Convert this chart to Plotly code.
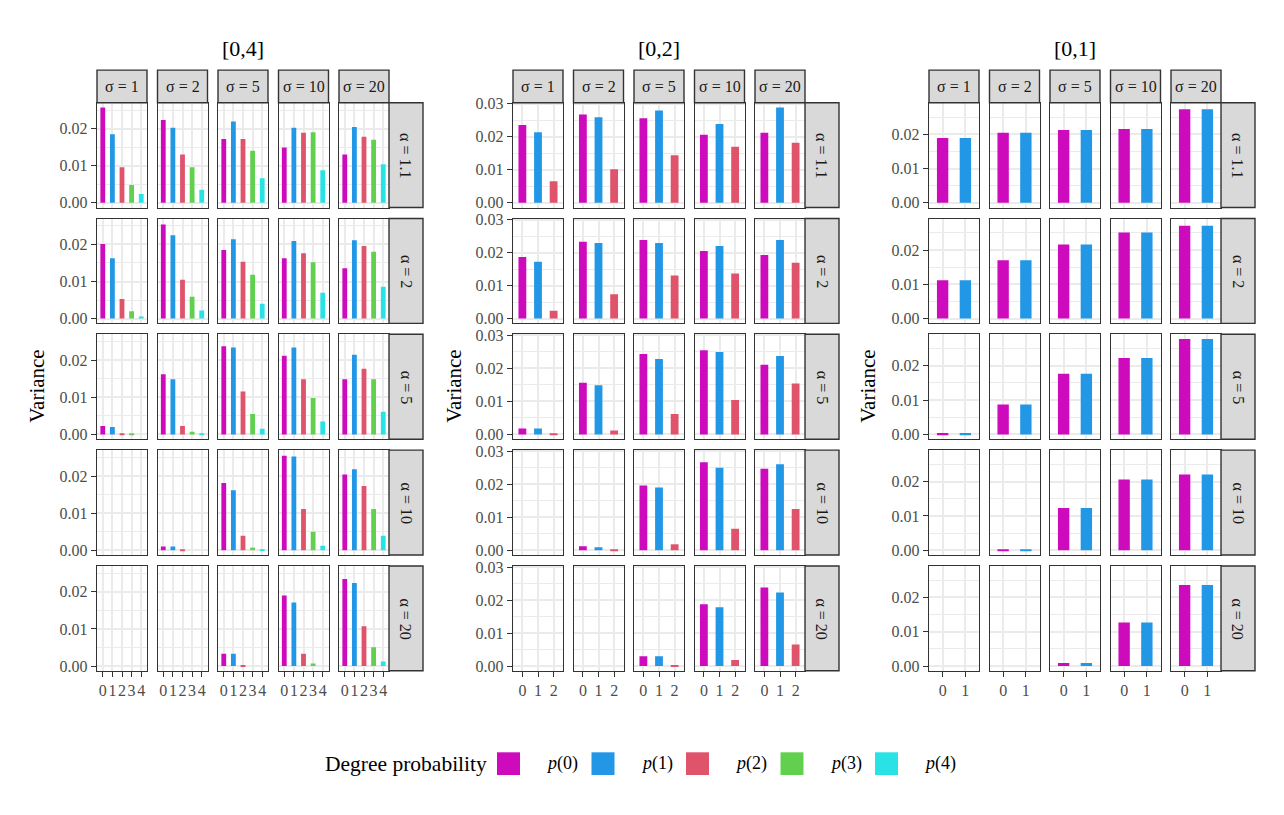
import plotly.graph_objects as go

W, H = 1284, 815
FONT = "Liberation Serif"

# ---------------- data ----------------
sigma_labels = ["σ = 1", "σ = 2", "σ = 5", "σ = 10", "σ = 20"]
alpha_labels = ["α = 1.1", "α = 2", "α = 5", "α = 10", "α = 20"]
group_titles = ["[0,4]", "[0,2]", "[0,1]"]
degree_labels = ["p(0)", "p(1)", "p(2)", "p(3)", "p(4)"]
degree_colors = ["#CD0BBC", "#2297E6", "#DF536B", "#61D04F", "#28E2E5"]

# rows = alpha (1.1, 2, 5, 10, 20), columns = sigma (1, 2, 5, 10, 20)
p0_04 = [[0.0257, 0.0223, 0.0172, 0.0149, 0.0130],
         [0.0201, 0.0254, 0.0185, 0.0163, 0.0136],
         [0.0023, 0.0162, 0.0238, 0.0212, 0.0149],
         [0.0000, 0.0010, 0.0181, 0.0255, 0.0204],
         [0.0000, 0.0000, 0.0033, 0.0190, 0.0235]]
p1_04 = [[0.0185, 0.0202, 0.0219, 0.0202, 0.0204],
         [0.0163, 0.0225, 0.0214, 0.0209, 0.0211],
         [0.0020, 0.0149, 0.0234, 0.0234, 0.0215],
         [0.0000, 0.0010, 0.0162, 0.0253, 0.0218],
         [0.0000, 0.0000, 0.0033, 0.0171, 0.0224]]
p2_04 = [[0.0096, 0.0130, 0.0172, 0.0189, 0.0178],
         [0.0053, 0.0105, 0.0153, 0.0176, 0.0196],
         [0.0002, 0.0023, 0.0116, 0.0149, 0.0177],
         [0.0000, 0.0002, 0.0039, 0.0111, 0.0173],
         [0.0000, 0.0000, 0.0003, 0.0033, 0.0107]]
p3_04 = [[0.0048, 0.0096, 0.0140, 0.0190, 0.0170],
         [0.0020, 0.0059, 0.0118, 0.0152, 0.0180],
         [0.0001, 0.0007, 0.0055, 0.0098, 0.0149],
         [0.0000, 0.0000, 0.0007, 0.0050, 0.0111],
         [0.0000, 0.0000, 0.0000, 0.0007, 0.0051]]
p4_04 = [[0.0024, 0.0035, 0.0066, 0.0088, 0.0104],
         [0.0006, 0.0022, 0.0040, 0.0070, 0.0086],
         [0.0000, 0.0002, 0.0015, 0.0035, 0.0061],
         [0.0000, 0.0000, 0.0002, 0.0012, 0.0039],
         [0.0000, 0.0000, 0.0000, 0.0000, 0.0012]]

p0_02 = [[0.0236, 0.0268, 0.0256, 0.0206, 0.0212],
         [0.0187, 0.0233, 0.0238, 0.0205, 0.0193],
         [0.0018, 0.0157, 0.0244, 0.0255, 0.0211],
         [0.0000, 0.0012, 0.0196, 0.0267, 0.0247],
         [0.0000, 0.0000, 0.0030, 0.0187, 0.0238]]
p1_02 = [[0.0214, 0.0259, 0.0280, 0.0239, 0.0289],
         [0.0172, 0.0229, 0.0229, 0.0220, 0.0238],
         [0.0018, 0.0149, 0.0229, 0.0250, 0.0238],
         [0.0000, 0.0009, 0.0190, 0.0250, 0.0261],
         [0.0000, 0.0000, 0.0030, 0.0178, 0.0223]]
p2_02 = [[0.0065, 0.0102, 0.0144, 0.0170, 0.0182],
         [0.0024, 0.0074, 0.0131, 0.0137, 0.0169],
         [0.0001, 0.0012, 0.0062, 0.0104, 0.0154],
         [0.0000, 0.0003, 0.0018, 0.0065, 0.0125],
         [0.0000, 0.0000, 0.0003, 0.0018, 0.0065]]

p0_01 = [[0.0189, 0.0204, 0.0212, 0.0215, 0.0273],
         [0.0112, 0.0170, 0.0216, 0.0251, 0.0271],
         [0.0004, 0.0087, 0.0177, 0.0223, 0.0278],
         [0.0000, 0.0002, 0.0123, 0.0206, 0.0221],
         [0.0000, 0.0000, 0.0009, 0.0127, 0.0236]]
p1_01 = [[0.0189, 0.0204, 0.0212, 0.0215, 0.0273],
         [0.0112, 0.0170, 0.0216, 0.0251, 0.0271],
         [0.0004, 0.0087, 0.0177, 0.0223, 0.0278],
         [0.0000, 0.0002, 0.0123, 0.0206, 0.0221],
         [0.0000, 0.0000, 0.0009, 0.0127, 0.0236]]

group_series = [[p0_04, p1_04, p2_04, p3_04, p4_04],
                [p0_02, p1_02, p2_02],
                [p0_01, p1_01]]

# ---------------- layout geometry (pixels) ----------------
group_left = [97, 513, 929]
col_pitch, panel_w = 60.5, 50
row_top0, row_pitch, panel_h = 97, 117.4, 106.3
strip_h, strip_w = 33, 34
ytitle_x = [37, 454, 868]
BORDER = "#333333"
GRID = "#EBEBEB"

fig = go.Figure()
layout = dict(width=W, height=H, margin=dict(l=0, r=0, t=0, b=0),
              paper_bgcolor="white", plot_bgcolor="white",
              showlegend=False, barmode="overlay",
              font=dict(family=FONT, color="#1A1A1A"))
shapes, annots = [], []

k = 0
for g, series in enumerate(group_series):
    n = len(series)
    vmax = max(max(max(r) for r in s) for s in series)
    lo, hi = -0.05 * vmax, 1.05 * vmax
    major = [v / 100 for v in range(0, 4) if v / 100 <= hi]
    minor = [v / 1000 for v in (5, 15, 25) if v / 1000 <= hi]
    for r in range(5):
        y0 = row_top0 + r * row_pitch
        y1 = y0 + panel_h
        for c in range(5):
            k += 1
            x0 = group_left[g] + c * col_pitch
            x1 = x0 + panel_w
            xs = "x" if k == 1 else f"x{k}"
            ys = "y" if k == 1 else f"y{k}"
            xkey = "xaxis" if k == 1 else f"xaxis{k}"
            ykey = "yaxis" if k == 1 else f"yaxis{k}"
            fig.add_trace(go.Bar(
                x=list(range(n)),
                y=[series[d][r][c] for d in range(n)],
                width=0.5,
                marker=dict(color=degree_colors[:n], line=dict(width=0)),
                xaxis=xs, yaxis=ys, hoverinfo="x+y"))
            layout[xkey] = dict(
                domain=[x0 / W, x1 / W], anchor=ys, range=[-0.6, n - 1 + 0.6],
                tickmode="array", tickvals=list(range(n)),
                ticktext=[str(i) for i in range(n)], tickangle=0,
                showgrid=True, gridcolor=GRID, gridwidth=1.6,
                zeroline=False, showline=True, mirror=True,
                linecolor=BORDER, linewidth=1.4,
                ticks="outside" if r == 4 else "", ticklen=5,
                tickcolor=BORDER, tickwidth=1.2,
                showticklabels=(r == 4),
                tickfont=dict(family=FONT, size=16, color="#4D4D4D"),
                fixedrange=True)
            layout[ykey] = dict(
                domain=[1 - y1 / H, 1 - y0 / H], anchor=xs, range=[lo, hi],
                tickmode="array", tickvals=major,
                ticktext=[f"{v:.2f}" for v in major],
                showgrid=True, gridcolor=GRID, gridwidth=1.6,
                minor=dict(tickmode="array", tickvals=minor, showgrid=True,
                           gridcolor=GRID, gridwidth=0.9, ticks=""),
                zeroline=False, showline=True, mirror=True,
                linecolor=BORDER, linewidth=1.4,
                ticks="outside" if c == 0 else "", ticklen=5,
                tickcolor=BORDER, tickwidth=1.2,
                showticklabels=(c == 0),
                tickfont=dict(family=FONT, size=16, color="#4D4D4D"),
                fixedrange=True)
            # top strips
            if r == 0:
                shapes.append(dict(type="rect", xref="paper", yref="paper",
                                   x0=x0 / W, x1=x1 / W,
                                   y0=1 - y0 / H, y1=1 - (y0 - strip_h) / H,
                                   fillcolor="#D9D9D9",
                                   line=dict(color=BORDER, width=1.4)))
                annots.append(dict(text=sigma_labels[c], xref="paper", yref="paper",
                                   x=(x0 + x1) / 2 / W, y=1 - (y0 - strip_h / 2) / H,
                                   showarrow=False, xanchor="center", yanchor="middle",
                                   font=dict(family=FONT, size=16, color="#1A1A1A")))
            # right strips
            if c == 4:
                shapes.append(dict(type="rect", xref="paper", yref="paper",
                                   x0=x1 / W, x1=(x1 + strip_w) / W,
                                   y0=1 - y1 / H, y1=1 - y0 / H,
                                   fillcolor="#D9D9D9",
                                   line=dict(color=BORDER, width=1.4)))
                annots.append(dict(text=alpha_labels[r], xref="paper", yref="paper",
                                   x=(x1 + strip_w / 2) / W, y=1 - (y0 + y1) / 2 / H,
                                   textangle=90, showarrow=False,
                                   xanchor="center", yanchor="middle",
                                   font=dict(family=FONT, size=16, color="#1A1A1A")))
    # group title
    gx0 = group_left[g]
    gx1 = group_left[g] + 4 * col_pitch + panel_w
    annots.append(dict(text=group_titles[g], xref="paper", yref="paper",
                       x=(gx0 + gx1) / 2 / W, y=1 - 42 / H, showarrow=False,
                       xanchor="center", yanchor="middle",
                       font=dict(family=FONT, size=22, color="black")))
    # y axis title
    ymid = row_top0 + (4 * row_pitch + panel_h) / 2
    annots.append(dict(text="Variance", xref="paper", yref="paper",
                       x=ytitle_x[g] / W, y=1 - ymid / H, textangle=-90,
                       showarrow=False, xanchor="center", yanchor="middle",
                       font=dict(family=FONT, size=21, color="black")))

# ---------------- legend (manual, ggplot style) ----------------
leg_y = 767
key_x0, key_pitch, key_size = 497, 94.5, 23
annots.append(dict(text="Degree probability", xref="paper", yref="paper",
                   x=(key_x0 - 8) / W, y=1 - leg_y / H, showarrow=False,
                   xanchor="right", yanchor="middle",
                   font=dict(family=FONT, size=21.5, color="black")))
for i, (lab, col) in enumerate(zip(degree_labels, degree_colors)):
    kx = key_x0 + i * key_pitch
    shapes.append(dict(type="rect", xref="paper", yref="paper",
                       x0=kx / W, x1=(kx + key_size) / W,
                       y0=1 - (leg_y + key_size / 2) / H,
                       y1=1 - (leg_y - key_size / 2) / H,
                       fillcolor=col, line=dict(width=0)))
    annots.append(dict(text="<i>p</i>" + lab[1:], xref="paper", yref="paper",
                       x=(kx + key_size + 24) / W, y=1 - leg_y / H,
                       showarrow=False, xanchor="left", yanchor="middle",
                       font=dict(family=FONT, size=18, color="black")))

layout["shapes"] = shapes
layout["annotations"] = annots
fig.update_layout(**layout)
fig.write_html("out.html",
               post_script="document.body.style.margin='0';document.body.style.padding='0';")
